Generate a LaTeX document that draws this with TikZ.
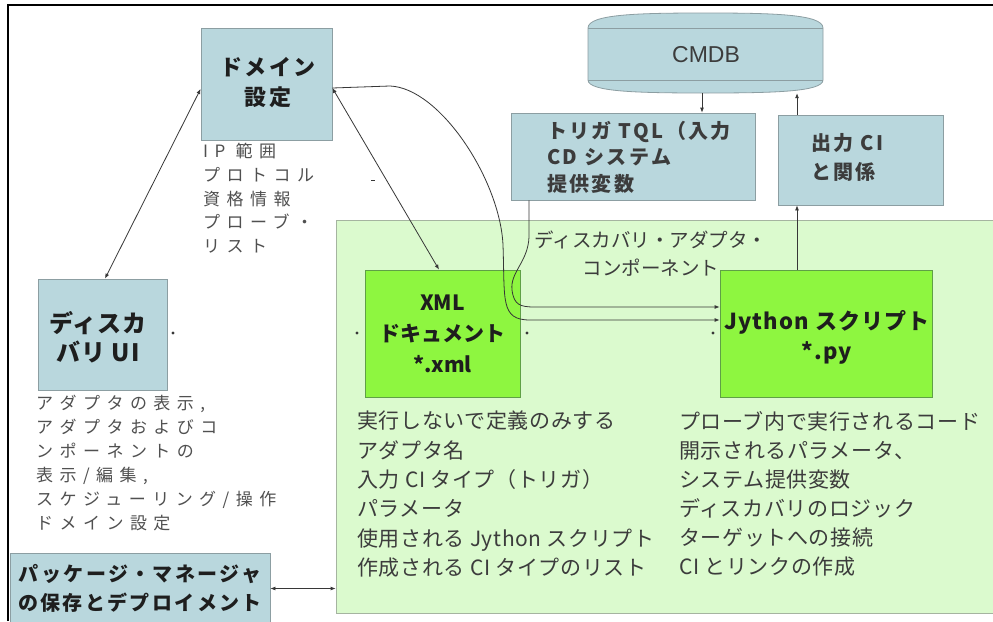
\documentclass[tikz,border=0pt]{standalone}
\usepackage{fontspec}
\setmainfont{Noto Sans CJK JP}
\newfontfamily\jpls[LetterSpace=38]{Noto Sans CJK JP}
\newfontfamily\jpsp[LetterSpace=12]{Noto Sans CJK JP}
\newfontfamily\jpss[LetterSpace=5]{Noto Sans CJK JP}
\newfontfamily\jpbig[LetterSpace=3]{Noto Sans CJK JP}
\newfontfamily\arialf{Liberation Sans}
\usetikzlibrary{arrows.meta}
\definecolor{boxblue}{RGB}{185,215,221}
\definecolor{boxedge}{RGB}{140,158,162}
\definecolor{boxgreen}{RGB}{142,246,64}
\definecolor{greenedge}{RGB}{95,160,70}
\definecolor{contgreen}{RGB}{219,250,206}
\definecolor{contedge}{RGB}{165,180,160}
\definecolor{txtgrey}{RGB}{80,80,80}
\definecolor{txtmid}{RGB}{60,60,60}
\definecolor{txtdark}{RGB}{30,30,30}
\definecolor{linegrey}{RGB}{55,55,55}
\tikzset{
  bluebox/.style={draw=boxedge, fill=boxblue, line width=0.8pt, inner sep=0pt},
  greenbox/.style={draw=greenedge, fill=boxgreen, line width=0.8pt, inner sep=0pt},
  boxtext/.style={text=txtdark, align=center, inner sep=0pt},
  desc/.style={text=txtgrey, align=left, inner sep=0pt, anchor=north west},
  conn/.style={draw=linegrey, line width=0.8pt},
  arr/.style={conn, -{Latex[length=5pt,width=4pt]}},
  darr/.style={conn, {Latex[length=5pt,width=4pt]}-{Latex[length=5pt,width=4pt]}},
  pt/.style={fill=linegrey}
}
\begin{document}
\begin{tikzpicture}[x=1pt,y=-1pt]
\useasboundingbox (0,0) rectangle (993,621);
\fill[white] (0,0) rectangle (993,621);
% frame
\draw[black, line width=1.5pt] (8,621) -- (8,5) -- (993,5);

% container
\node[draw=contedge, fill=contgreen, line width=0.8pt, minimum width=664pt, minimum height=393pt, inner sep=0pt] (cont) at (668,416.5) {};
\node[text=txtmid, align=center, inner sep=0pt, font=\fontsize{19.5}{28}\selectfont] (contlbl) at (651,254) {ディスカバリ・アダプタ・\\コンポーネント};

% domain box
\node[bluebox, minimum width=131pt, minimum height=112pt] (dom) at (266.5,84) {};
\node[boxtext, font=\jpsp\bfseries\fontsize{22}{30}\selectfont] (domt) at (268,83) {ドメイン\\設定};
\node[desc, font=\jpls\fontsize{17}{23.8}\selectfont] (domd) at (203,143) {IP 範囲\\プロトコル\\資格情報\\プローブ・\\リスト};

% discovery UI
\node[bluebox, minimum width=129pt, minimum height=111pt] (ui) at (102.5,334.5) {};
\node[boxtext, font=\jpss\bfseries\fontsize{24}{29}\selectfont] (uit) at (98,337) {ディスカ\\バリ UI};
\node[desc, font=\jpls\fontsize{17}{24}\selectfont] (uid) at (36,395) {アダプタの表示,\\アダプタおよびコ\\ンポーネントの\\表示/編集,\\スケジューリング/操作\\ドメイン設定};

% package manager
\node[bluebox, minimum width=260pt, minimum height=71pt] (pkg) at (140,588.5) {};
\node[boxtext, font=\jpsp\bfseries\fontsize{20}{29}\selectfont] (pkgt) at (140,588.5) {パッケージ・マネージャ\\の保存とデプロイメント};

% CMDB cylinder
\node[minimum width=235pt, minimum height=80pt, inner sep=0pt] (cmdb) at (705.5,53) {};
\filldraw[draw=boxedge, fill=boxblue, line width=0.8pt]
  (588,80) -- (588,28) .. controls (588,14) and (640,13) .. (705.5,13)
  .. controls (771,13) and (823,14) .. (823,28) -- (823,80)
  .. controls (823,92) and (771,93) .. (705.5,93)
  .. controls (640,93) and (588,92) .. (588,80) -- cycle;
\draw[boxedge, line width=0.8pt] (588,28) -- (823,28) (588,80) -- (823,80);
\node[text=txtmid, font=\arialf\fontsize{23}{24}\selectfont, inner sep=0pt] (cmdbt) at (706,55) {CMDB};

% trigger TQL
\node[bluebox, minimum width=244pt, minimum height=87pt] (trig) at (633,156.5) {};
\node[boxtext, text=txtmid, align=left, anchor=west, font=\jpsp\bfseries\fontsize{20}{26.5}\selectfont] (trigt) at (547,157) {トリガ TQL（入力\\CD システム\\提供変数};

% output CI
\node[bluebox, minimum width=165pt, minimum height=90pt] (out) at (860.5,160) {};
\node[boxtext, text=txtmid, align=left, anchor=west, font=\jpsp\bfseries\fontsize{20}{29}\selectfont] (outt) at (811,157.5) {出力 CI\\と関係};

% XML box
\node[greenbox, minimum width=155pt, minimum height=127pt] (xml) at (442.5,333.5) {};
\node[boxtext, font=\bfseries\fontsize{21}{31}\selectfont] (xmlt) at (442.5,334) {XML\\ドキュメント\\*.xml};
\node[desc, text=txtmid, font=\jpbig\fontsize{21}{29.3}\selectfont] (xmld) at (357,411) {実行しないで定義のみする\\アダプタ名\\入力 CI タイプ（トリガ）\\パラメータ\\使用される Jython スクリプト\\作成される CI タイプのリスト};

% Jython box
\node[greenbox, minimum width=212pt, minimum height=127pt] (jy) at (826,333.5) {};
\node[boxtext, font=\jpss\bfseries\fontsize{22}{30}\selectfont] (jyt) at (827,337) {Jython スクリプト\\*.py};
\node[desc, text=txtmid, font=\jpbig\fontsize{21}{29.1}\selectfont] (jyd) at (679,411) {プローブ内で実行されるコード\\開示されるパラメータ、\\システム提供変数\\ディスカバリのロジック\\ターゲットへの接続\\CI とリンクの作成};

% connectors
\coordinate (d1) at ([yshift=-4pt]dom.east);
\coordinate (d2) at ([yshift=-5pt]dom.west);
\draw[darr] (d2) -- ([xshift=2.5pt]ui.north);
\draw[darr] (d1) -- ([xshift=-3.5pt]xml.north);
\draw[arr] (d1) -- (390,86) .. controls (440,88) and (500,180) .. (503,245)
  .. controls (505,300) and (500,320) .. (530,320) -- ([yshift=13.5pt]jy.west);
\draw[arr] ([xshift=-104pt]trig.south) -- (529,237) .. controls (528,262) and (510,272) .. (512,290)
  .. controls (514,305) and (520,307) .. (535,307) -- ([yshift=26.5pt]jy.west);
\draw[arr] ([xshift=-3.5pt]cmdb.south) -- ([xshift=69pt]trig.north);
\coordinate (o1) at ([xshift=-63.5pt]out.north);
\draw[arr] (o1) -- (o1 |- cmdb.south);
\coordinate (j1) at ([xshift=-29pt]jy.north);
\draw[arr] (j1) -- (j1 |- out.south);
\draw[darr] (pkg.east) -- (pkg.east -| cont.west);

% small marks
\fill[pt] (173,333) circle (1.6pt);
\fill[pt] (357,333) circle (1.6pt);
\fill[pt] (527,333) circle (1.6pt);
\fill[pt] (713,333) circle (1.6pt);
\fill[pt] (371,179.5) rectangle (375,181);
\end{tikzpicture}
\end{document}
